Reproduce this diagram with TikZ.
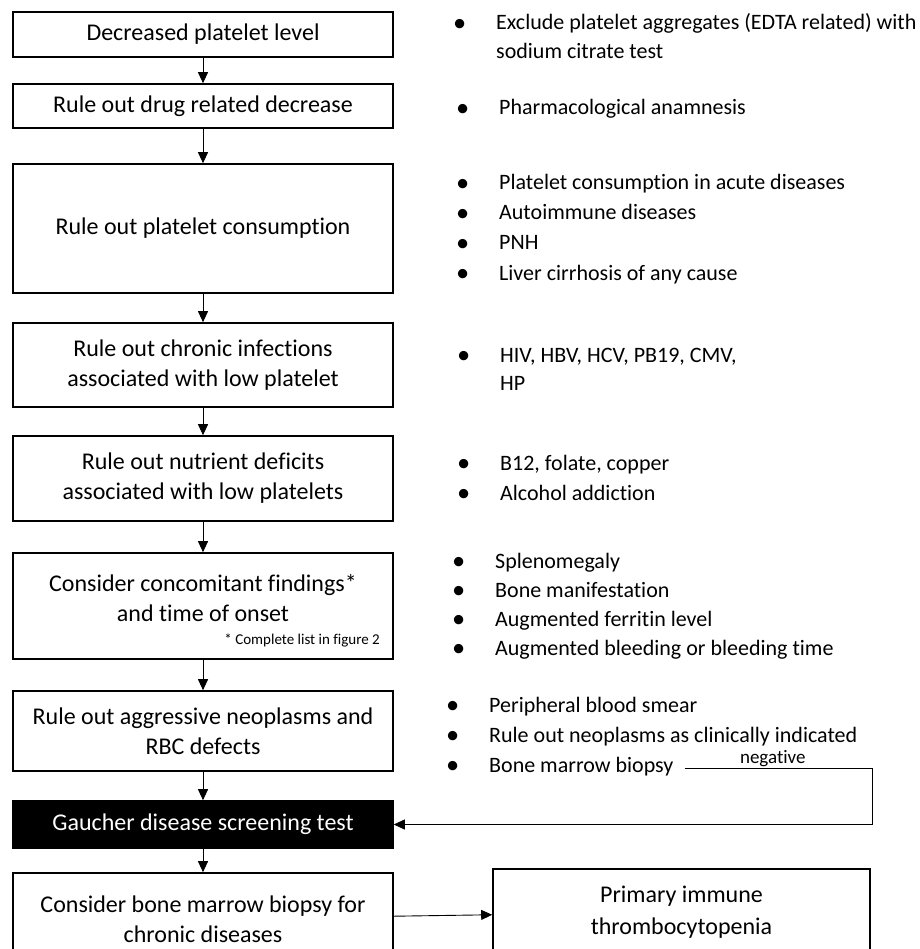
\documentclass[tikz,border=0pt]{standalone}
\usepackage{fontspec}
\setmainfont{Carlito}[Ligatures=NoCommon]
\usetikzlibrary{arrows.meta, positioning}
\tikzset{
  gdbox/.style={rectangle, draw=black, line width=1.6pt, fill=white, align=center,
                minimum width=380pt, inner sep=2pt, font=\fontsize{24}{30}\selectfont},
  gdflow/.style={-{Triangle[length=11pt,width=10pt]}, line width=0.9pt},
  gditem/.style={anchor=base west, inner sep=0pt, font=\fontsize{22}{26}\selectfont},
}
\newcommand{\gdbul}{\llap{\raisebox{-1.5pt}{\scalebox{1.2}{\textbullet}}\hspace{30pt}}}

\begin{document}
\begin{tikzpicture}[x=1pt, y=-1pt]
  \useasboundingbox (0,0) rectangle (919,949);
  % left column
  \node[gdbox, minimum height=45pt](s1) at (203,34.5){Decreased platelet level};
  \node[gdbox, minimum height=44pt](s2) at (203,106){Rule out drug related decrease};
  \node[gdbox, minimum height=129pt](s3) at (203,228.5){Rule out platelet consumption};
  \node[gdbox, minimum height=84pt](s4) at (203,365){Rule out chronic infections\\associated with low platelet};
  \node[gdbox, minimum height=85pt](s5) at (203,478.5){Rule out nutrient deficits\\associated with low platelets};
  \node[gdbox, minimum height=106pt](s6) at (203,606){};
  \node[align=center, font=\fontsize{24}{30}\selectfont](s6t) at (203,598){Consider concomitant findings*\\and time of onset};
  \node[anchor=base east, inner sep=0pt, font=\fontsize{15}{17}\selectfont](s6n) at (380,644){* Complete list in figure 2};
  \node[gdbox, minimum height=80pt](s7) at (203,731){Rule out aggressive neoplasms and\\RBC defects};
  \node[gdbox, minimum height=47pt, fill=black, text=white](s8) at (203,824.5){Gaucher disease screening test};
  \node[gdbox, minimum height=92pt](s9) at (203,919){Consider bone marrow biopsy for\\chronic diseases};
  \node[gdbox, minimum width=377pt, minimum height=86pt, font=\fontsize{24}{32}\selectfont](ptp) at (681.5,912){Primary immune\\thrombocytopenia};
  \draw[gdflow](s1)--(s2);\draw[gdflow](s2)--(s3);\draw[gdflow](s3)--(s4);\draw[gdflow](s4)--(s5);
  \draw[gdflow](s5)--(s6);\draw[gdflow](s6)--(s7);\draw[gdflow](s7)--(s8);\draw[gdflow](s8)--(s9);
  \draw[gdflow](s9)--(ptp);
  % right column
  \node[gditem](n1a) at (496,30){\gdbul Exclude platelet aggregates (EDTA related) with};
  \node[gditem](n1b) at (496,59){sodium citrate test};
  \node[gditem](n2) at (499,115){\gdbul Pharmacological anamnesis};
  \node[gditem](n3a) at (499,190){\gdbul Platelet consumption in acute diseases};
  \node[gditem](n3b) at (499,220){\gdbul Autoimmune diseases};
  \node[gditem](n3c) at (499,250){\gdbul PNH};
  \node[gditem](n3d) at (499,280){\gdbul Liver cirrhosis of any cause};
  \node[gditem](n4a) at (500,362){\gdbul HIV, HBV, HCV, PB19, CMV,};
  \node[gditem](n4b) at (500,390){HP};
  \node[gditem](n5a) at (500,470){\gdbul B12, folate, copper};
  \node[gditem](n5b) at (500,500){\gdbul Alcohol addiction};
  \node[gditem](n6a) at (495,568){\gdbul Splenomegaly};
  \node[gditem](n6b) at (495,597){\gdbul Bone manifestation};
  \node[gditem](n6c) at (495,626){\gdbul Augmented ferritin level};
  \node[gditem](n6d) at (495,655){\gdbul Augmented bleeding or bleeding time};
  \node[gditem](n7a) at (489,712){\gdbul Peripheral blood smear};
  \node[gditem](n7b) at (489,742){\gdbul Rule out neoplasms as clinically indicated};
  \node[gditem](n7c) at (489,772){\gdbul Bone marrow biopsy};
  \coordinate (negc) at (872,768);
  \draw[gdflow, shorten <=11pt](n7c.east |- negc)--node[above, inner sep=1pt, font=\fontsize{19}{21}\selectfont]{negative}(negc)|-(s8.east);
\end{tikzpicture}
\end{document}
